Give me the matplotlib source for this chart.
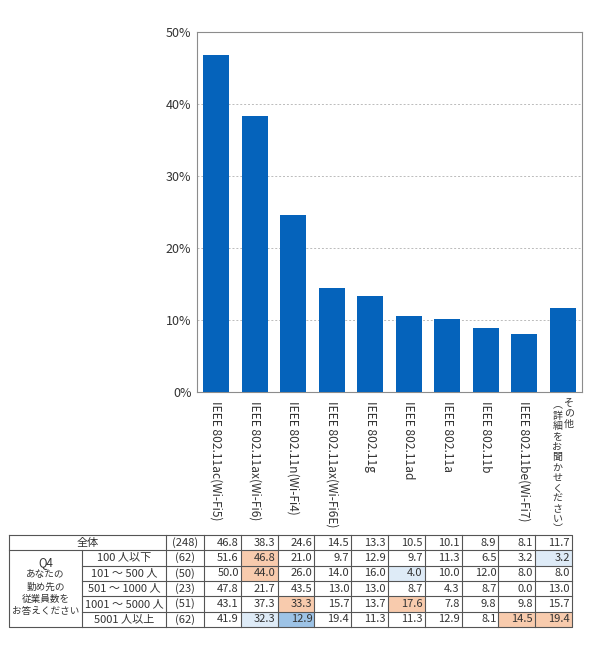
import matplotlib.pyplot as plt
from matplotlib.patches import Rectangle

plt.rcParams['font.family'] = ['Noto Sans CJK JP', 'DejaVu Sans']

# データ
labels = ["IEEE 802.11ac(Wi-Fi5)", "IEEE 802.11ax(Wi-Fi6)", "IEEE 802.11n(Wi-Fi4)",
          "IEEE 802.11ax(Wi-Fi6E)", "IEEE 802.11g", "IEEE 802.11ad", "IEEE 802.11a",
          "IEEE 802.11b", "IEEE 802.11be(Wi-Fi7)", "その他"]
other_sub = "︵詳細をお聞かせください︶"
total = [46.8, 38.3, 24.6, 14.5, 13.3, 10.5, 10.1, 8.9, 8.1, 11.7]
total_n = "(248)"

q_title = "Q4"
q_lines = ["あなたの", "勤め先の", "従業員数を", "お答えください"]
groups = ["100 人以下", "101 ～ 500 人", "501 ～ 1000 人", "1001 ～ 5000 人", "5001 人以上"]
group_n = ["(62)", "(50)", "(23)", "(51)", "(62)"]
rows = [
    [51.6, 46.8, 21.0, 9.7, 12.9, 9.7, 11.3, 6.5, 3.2, 3.2],
    [50.0, 44.0, 26.0, 14.0, 16.0, 4.0, 10.0, 12.0, 8.0, 8.0],
    [47.8, 21.7, 43.5, 13.0, 13.0, 8.7, 4.3, 8.7, 0.0, 13.0],
    [43.1, 37.3, 33.3, 15.7, 13.7, 17.6, 7.8, 9.8, 9.8, 15.7],
    [41.9, 32.3, 12.9, 19.4, 11.3, 11.3, 12.9, 8.1, 14.5, 19.4],
]
# 色付けセル (行, 列): h=高い, l=低い, ll=かなり低い
marks = {(0, 1): 'h', (0, 9): 'l', (1, 1): 'h', (1, 5): 'l',
         (3, 2): 'h', (3, 5): 'h', (4, 1): 'l', (4, 2): 'll', (4, 8): 'h', (4, 9): 'h'}
mark_col = {'h': '#F8CBAD', 'l': '#DEEBF7', 'll': '#9DC3E6'}

txt = '#333333'
W, H = 590, 646
fig = plt.figure(figsize=(W / 100, H / 100), dpi=100)

# グラフ
ax = fig.add_axes([197 / W, 1 - 392 / H, 385 / W, 360 / H])
x = list(range(len(total)))
ax.bar(x, total, width=0.68, color='#0563BB', zorder=3)
ax.set_xlim(-0.5, len(total) - 0.5)
ax.set_ylim(0, 50)
ax.set_yticks([0, 10, 20, 30, 40, 50])
ax.set_yticklabels(["0%", "10%", "20%", "30%", "40%", "50%"], fontsize=9, color=txt)
ax.tick_params(axis='y', length=0, pad=4)
ax.set_xticks([])
ax.yaxis.grid(True, linestyle=(0, (2, 2)), color='#BBBBBB', linewidth=0.7)
for s in ax.spines.values():
    s.set_color('#8C8C8C')
    s.set_linewidth(0.8)

for i, lab in enumerate(labels):
    if i < len(labels) - 1:
        ax.text(i, -1.2, lab, rotation=-90, ha='center', va='top', fontsize=8.6,
                color=txt)
    else:
        ax.text(i + 0.16, -0.9, "\n".join(lab), ha='center', va='top', fontsize=7.2,
                color=txt, linespacing=1.04)
        ax.text(i - 0.14, -1.2, "\n".join(other_sub), ha='center', va='top', fontsize=7.2,
                color=txt, linespacing=1.04)

# 表
tb = fig.add_axes([0, 0, 1, 1])
tb.set_xlim(0, W)
tb.set_ylim(H, 0)
tb.axis('off')

xs = [9, 82, 166, 204] + [204 + 36.8 * k for k in range(1, 11)]
ys = [535 + 15.33 * k for k in range(7)]
lc = '#555555'
lw = 0.8

for (r, c), m in marks.items():
    tb.add_patch(Rectangle((xs[c + 3], ys[r + 1]), xs[c + 4] - xs[c + 3],
                           ys[r + 2] - ys[r + 1], facecolor=mark_col[m], edgecolor='none'))

# 枠線
tb.plot([xs[0], xs[-1], xs[-1], xs[0], xs[0]], [ys[0], ys[0], ys[-1], ys[-1], ys[0]],
        color=lc, lw=lw)
tb.plot([xs[0], xs[-1]], [ys[1], ys[1]], color=lc, lw=lw)
for y in ys[2:-1]:
    tb.plot([xs[1], xs[-1]], [y, y], color=lc, lw=lw)
tb.plot([xs[1], xs[1]], [ys[1], ys[-1]], color=lc, lw=lw)
for xv in xs[2:-1]:
    tb.plot([xv, xv], [ys[0], ys[-1]], color=lc, lw=lw)

fs = 8
tb.text((xs[0] + xs[2]) / 2, (ys[0] + ys[1]) / 2, "全体", ha='center', va='center',
        fontsize=fs, color=txt)
tb.text((xs[2] + xs[3]) / 2, (ys[0] + ys[1]) / 2, total_n, ha='center', va='center',
        fontsize=fs, color=txt)
for j, v in enumerate(total):
    tb.text(xs[j + 4] - 2, (ys[0] + ys[1]) / 2, f"{v:.1f}", ha='right', va='center',
            fontsize=fs, color=txt)

qx = (xs[0] + xs[1]) / 2
tb.text(qx, 563, q_title, ha='center', va='center', fontsize=8.3, color=txt)
for k, line in enumerate(q_lines):
    tb.text(qx, 574.5 + 12.3 * k, line, ha='center', va='center', fontsize=6.9, color=txt)

for r in range(len(groups)):
    yc = (ys[r + 1] + ys[r + 2]) / 2
    tb.text((xs[1] + xs[2]) / 2, yc, groups[r], ha='center', va='center', fontsize=fs, color=txt)
    tb.text((xs[2] + xs[3]) / 2, yc, group_n[r], ha='center', va='center', fontsize=fs, color=txt)
    for j, v in enumerate(rows[r]):
        tb.text(xs[j + 4] - 2, yc, f"{v:.1f}", ha='right', va='center', fontsize=fs, color=txt)

fig.savefig("out.png", dpi=100)
